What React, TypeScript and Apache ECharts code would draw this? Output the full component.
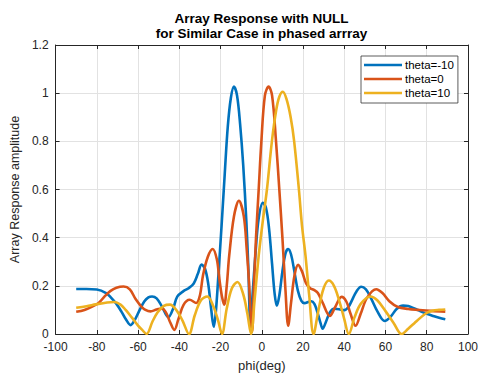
import React, { useEffect, useRef } from "react";
import * as echarts from "echarts";

const titleLines = ["Array Response with NULL", "for Similar Case in phased arrray"];
const xAxisName = "phi(deg)";
const yAxisName = "Array Response amplitude";
const seriesNames = ["theta=-10", "theta=0", "theta=10"];
const seriesColors = ["#0072BD", "#D95319", "#EDB120"];

const phiA = [-90, -85, -80, -75.5, -73, -70.5, -68, -66, -63.6, -61.5, -59.5, -57, -55, -53.2, -51, -48.5, -45.3, -43, -41, -38, -35.5, -33, -31, -29.2, -27.5, -26, -24.5, -23.3, -22.3, -21, -19.5, -18, -16.5, -15, -13.5, -12, -10.5, -9, -7.5, -6.5, -5.5, -4.5, -3, -1.5, 0.5, 2, 3.5, 5, 6.2, 7.3, 8.5, 10, 11.5, 12.8, 14.2, 15.8, 17.5, 19.2, 20.8, 22.5, 24, 25.5, 27, 28.5, 29.5, 31, 33, 35, 37.5, 40, 42, 44, 46, 48.2, 50.5, 53, 56, 59.6, 62.5, 65.5, 68.5, 71, 74, 77, 80, 83, 86, 89];
const ampA = [0.187, 0.187, 0.185, 0.17, 0.15, 0.125, 0.092, 0.062, 0.037, 0.06, 0.095, 0.135, 0.152, 0.156, 0.148, 0.115, 0.07, 0.105, 0.155, 0.178, 0.19, 0.21, 0.25, 0.288, 0.27, 0.21, 0.1, 0.03, 0.09, 0.25, 0.45, 0.66, 0.86, 0.98, 1.027, 0.99, 0.87, 0.7, 0.47, 0.27, 0.03, 0.16, 0.34, 0.48, 0.545, 0.525, 0.44, 0.29, 0.17, 0.117, 0.16, 0.26, 0.335, 0.353, 0.33, 0.26, 0.18, 0.138, 0.128, 0.133, 0.136, 0.125, 0.09, 0.045, 0.022, 0.048, 0.09, 0.105, 0.103, 0.099, 0.112, 0.145, 0.178, 0.196, 0.185, 0.148, 0.095, 0.054, 0.072, 0.105, 0.118, 0.116, 0.106, 0.094, 0.084, 0.075, 0.067, 0.061];

const phiB = [-90, -86, -82, -79, -76, -73.5, -70.5, -67, -64, -61.2, -58.5, -56.4, -54, -51, -48.5, -46.5, -44.5, -42.4, -40.5, -38, -35, -31.8, -30, -28.5, -26.2, -23.8, -21.8, -20.6, -19.3, -18.2, -17, -15.8, -13.5, -11.1, -8.7, -7.3, -6.3, -4.7, -3.8, -2.8, -1.5, -0.2, 1.5, 3.3, 5, 6.9, 8.5, 10, 11.5, 12.8, 14.2, 15.8, 17.6, 19.5, 21.5, 23.5, 25.5, 27.2, 29.5, 33, 35.5, 38.7, 41, 43, 45.5, 48, 51, 55.5, 58.5, 62, 66, 71, 76, 82, 89];
const ampB = [0.092, 0.1, 0.115, 0.13, 0.158, 0.178, 0.192, 0.197, 0.185, 0.145, 0.115, 0.1, 0.094, 0.102, 0.106, 0.09, 0.05, 0.017, 0.06, 0.12, 0.142, 0.129, 0.16, 0.244, 0.32, 0.353, 0.31, 0.23, 0.155, 0.122, 0.2, 0.325, 0.488, 0.553, 0.488, 0.35, 0.23, 0.01, 0.2, 0.4, 0.6, 0.8, 0.99, 1.027, 0.99, 0.8, 0.6, 0.4, 0.18, 0.034, 0.13, 0.24, 0.287, 0.26, 0.21, 0.19, 0.182, 0.17, 0.13, 0.075, 0.11, 0.154, 0.135, 0.085, 0.034, 0.085, 0.15, 0.186, 0.17, 0.135, 0.112, 0.104, 0.1, 0.096, 0.093];

const phiC = [-90, -85, -80.5, -75, -71.5, -68.5, -66, -63, -60, -58, -55.9, -53, -50.5, -47.5, -44.5, -41.5, -38.5, -35.3, -32.5, -29.5, -26.4, -23.5, -21.3, -19.3, -17, -14.5, -11.8, -9, -7, -5.2, -3.5, -1.5, 0.5, 2.5, 4.9, 7, 8.5, 10.2, 12, 14, 15.7, 18, 19.5, 21.2, 23, 25.1, 27.5, 30, 32.5, 35, 37.5, 40, 42.2, 45, 48, 52.6, 56, 60, 64, 67.8, 71, 74, 77, 80, 83, 86, 89];
const ampC = [0.109, 0.115, 0.123, 0.131, 0.133, 0.122, 0.1, 0.068, 0.035, 0.017, 0, 0.052, 0.09, 0.117, 0.122, 0.1, 0.057, 0, 0.078, 0.14, 0.156, 0.115, 0.06, 0, 0.106, 0.19, 0.216, 0.165, 0.085, 0, 0.14, 0.325, 0.47, 0.6, 0.8, 0.93, 0.985, 1.006, 0.975, 0.9, 0.8, 0.6, 0.45, 0.325, 0.16, 0, 0.1, 0.19, 0.222, 0.2, 0.14, 0.062, 0, 0.07, 0.125, 0.156, 0.14, 0.095, 0.045, 0, 0.022, 0.045, 0.068, 0.088, 0.097, 0.1, 0.102];

const phiSets = [phiA, phiB, phiC];
const ampSets = [ampA, ampB, ampC];

const xMin = -100, xMax = 100, xStep = 20;
const yMin = 0, yMax = 1.2, yStep = 0.2;

const ink = "#262626";
const gridGray = "#e2e2e2";
const fontFamily = "Arial, 'Liberation Sans', Helvetica, sans-serif";

export default function App() {
  const ref = useRef<HTMLDivElement>(null);
  useEffect(() => {
    if (!ref.current) return;
    const chart = echarts.init(ref.current, null, { renderer: "svg" });
    const hiddenAxisCommon = {
      axisLine: { show: true, onZero: false, lineStyle: { color: ink, width: 1 } },
      axisTick: { show: true, inside: true, length: 4, lineStyle: { color: ink } },
      axisLabel: { show: false },
      splitLine: { show: false },
    };
    chart.setOption({
      animation: false,
      backgroundColor: "#ffffff",
      textStyle: { fontFamily },
      title: {
        text: titleLines.join("\n"),
        left: 261.5,
        top: 11,
        padding: 0,
        textAlign: "center",
        textStyle: { fontSize: 13.5, fontWeight: "bold", color: "#000", lineHeight: 15, fontFamily },
      },
      grid: { left: 52, right: 10, top: 45, bottom: 37, containLabel: false },
      legend: {
        data: seriesNames,
        orient: "vertical",
        left: 361,
        top: 56,
        padding: [3, 4, 4, 3],
        icon: "rect",
        itemWidth: 38,
        itemHeight: 2.6,
        itemGap: 2,
        backgroundColor: "#ffffff",
        borderColor: "#333",
        borderWidth: 0.8,
        borderRadius: 0,
        textStyle: { fontSize: 11.5, color: "#000", fontFamily, padding: [0, 0, 0, -2] },
      },
      xAxis: [
        {
          type: "value",
          min: xMin,
          max: xMax,
          interval: xStep,
          position: "bottom",
          name: xAxisName,
          nameLocation: "middle",
          nameGap: 25,
          nameTextStyle: { fontSize: 13, color: ink, fontFamily },
          axisLine: { show: true, onZero: false, lineStyle: { color: ink, width: 1 } },
          axisTick: { show: true, inside: true, length: 4, lineStyle: { color: ink } },
          axisLabel: { color: ink, fontSize: 12, margin: 7, fontFamily },
          splitLine: { show: true, lineStyle: { color: gridGray, width: 1 } },
        },
        { type: "value", min: xMin, max: xMax, interval: xStep, position: "top", ...hiddenAxisCommon },
      ],
      yAxis: [
        {
          type: "value",
          min: yMin,
          max: yMax,
          interval: yStep,
          position: "left",
          name: yAxisName,
          nameLocation: "middle",
          nameRotate: 90,
          nameGap: 30,
          nameTextStyle: { fontSize: 12.5, color: ink, fontFamily },
          axisLine: { show: true, onZero: false, lineStyle: { color: ink, width: 1 } },
          axisTick: { show: true, inside: true, length: 4, lineStyle: { color: ink } },
          axisLabel: { color: ink, fontSize: 12, margin: 7, fontFamily },
          splitLine: { show: true, lineStyle: { color: gridGray, width: 1 } },
        },
        { type: "value", min: yMin, max: yMax, interval: yStep, position: "right", ...hiddenAxisCommon },
      ],
      series: seriesNames.map((name, i) => ({
        name,
        type: "line",
        xAxisIndex: 0,
        yAxisIndex: 0,
        data: phiSets[i].map((p, j) => [p, ampSets[i][j]]),
        symbol: "none",
        smooth: 0.35,
        lineStyle: { color: seriesColors[i], width: 2.6 },
        itemStyle: { color: seriesColors[i] },
        z: 2 + i,
      })),
    });
    return () => chart.dispose();
  }, []);
  return (
    <div
      ref={ref}
      style={{ position: "fixed", left: 0, top: 0, width: 481, height: 377, background: "#fff" }}
    />
  );
}
